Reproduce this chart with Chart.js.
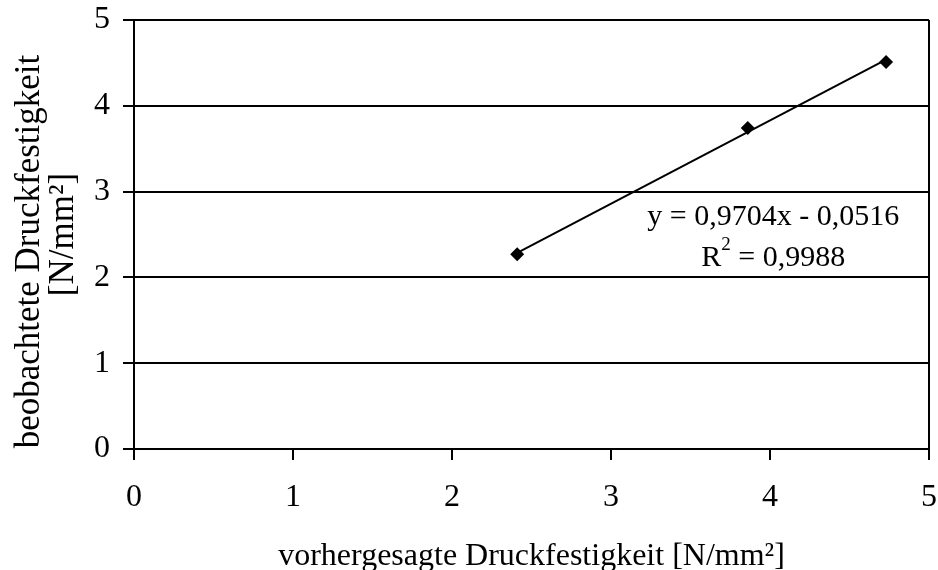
<!DOCTYPE html>
<html>
<head>
<meta charset="utf-8">
<script src="https://cdn.jsdelivr.net/npm/chart.js@4.4.1/dist/chart.umd.min.js"></script>
<style>
  html, body { margin: 0; padding: 0; background: #fff; }
  #wrap { width: 938px; height: 570px; }
</style>
</head>
<body>
<div id="wrap"><canvas id="grafico"></canvas></div>
<script>
// vorhergesagte vs. beobachtete Druckfestigkeit [N/mm²]
const vorhergesagt = [2.41, 3.86, 4.73];
const beobachtet = [2.27, 3.74, 4.51];
const achsenTicks = [0, 1, 2, 3, 4, 5];

// lineare Trendlinie
const steigung = 0.9704;
const achsenabschnitt = -0.0516;
const bestimmtheit = 0.9988;

const schrift = "'Liberation Serif', 'Times New Roman', serif";

const punkte = vorhergesagt.map((x, i) => ({ x: x, y: beobachtet[i] }));
const xMin = Math.min(...vorhergesagt);
const xMax = Math.max(...vorhergesagt);
const trend = [xMin, xMax].map((x) => ({ x: x, y: steigung * x + achsenabschnitt }));

function zahl(v, n) {
  return Math.abs(v).toFixed(n).replace('.', ',');
}

// Rahmen rechts, y-Titel (zweizeilig) und Gleichung
const extras = {
  id: 'extras',
  afterDraw(chart) {
    const ctx = chart.ctx;
    const a = chart.chartArea;
    const sx = chart.scales.x;
    const sy = chart.scales.y;
    ctx.save();
    ctx.strokeStyle = '#000';
    ctx.lineWidth = 2;
    ctx.beginPath();
    ctx.moveTo(a.right, a.top);
    ctx.lineTo(a.right, a.bottom);
    ctx.stroke();

    ctx.fillStyle = '#000';
    ctx.textAlign = 'center';
    ctx.textBaseline = 'middle';

    ctx.font = '35px ' + schrift;
    ctx.save();
    ctx.translate(a.left - 104, (a.top + a.bottom) / 2 + 17);
    ctx.rotate(-Math.PI / 2);
    ctx.fillText('beobachtete Druckfestigkeit', 0, 0);
    ctx.restore();
    ctx.save();
    ctx.translate(a.left - 70, (a.top + a.bottom) / 2);
    ctx.rotate(-Math.PI / 2);
    ctx.fillText('[N/mm²]', 0, 0);
    ctx.restore();

    // Gleichung der Trendlinie
    const gross = '30px ' + schrift;
    const klein = '19px ' + schrift;
    ctx.font = gross;
    const gx = sx.getPixelForValue(4.02);
    const gy1 = sy.getPixelForValue(2.70);
    const gy2 = sy.getPixelForValue(2.23);
    const zeichen = achsenabschnitt < 0 ? ' - ' : ' + ';
    ctx.fillText('y = ' + zahl(steigung, 4) + 'x' + zeichen + zahl(achsenabschnitt, 4), gx, gy1);

    const teil1 = 'R';
    const teil2 = ' = ' + zahl(bestimmtheit, 4);
    const w1 = ctx.measureText(teil1).width;
    const w2 = ctx.measureText(teil2).width;
    ctx.font = klein;
    const wh = ctx.measureText('2').width;
    const start = gx - (w1 + wh + w2) / 2;
    ctx.textAlign = 'left';
    ctx.fillText('2', start + w1, gy2 - 13);
    ctx.font = gross;
    ctx.fillText(teil1, start, gy2);
    ctx.fillText(teil2, start + w1 + wh, gy2);
    ctx.restore();
  }
};

const data = {
  datasets: [
    {
      label: 'Messwerte',
      data: punkte,
      showLine: false,
      pointStyle: 'rectRot',
      pointRadius: 7,
      backgroundColor: '#000',
      borderColor: '#000',
      borderWidth: 0,
      order: 0
    },
    {
      label: 'Trend',
      data: trend,
      showLine: true,
      pointRadius: 0,
      borderColor: '#000',
      borderWidth: 2,
      order: 1
    }
  ]
};

const config = {
  type: 'scatter',
  data: data,
  options: {
    responsive: true,
    maintainAspectRatio: false,
    animation: false,
    layout: { padding: { top: 20, right: 9, left: 0, bottom: 0 } },
    plugins: {
      legend: { display: false },
      tooltip: { enabled: false }
    },
    scales: {
      x: {
        type: 'linear',
        min: 0,
        max: 5,
        afterBuildTicks: (s) => { s.ticks = achsenTicks.map((v) => ({ value: v })); },
        afterFit: (s) => { s.height = 121; s.paddingLeft = 0; s.paddingRight = 0; },
        border: { color: '#000', width: 2 },
        grid: { drawOnChartArea: false, drawTicks: true, tickLength: 11, color: '#000', lineWidth: 2 },
        ticks: { color: '#000', font: { family: schrift, size: 32 }, padding: 18, maxRotation: 0 },
        title: {
          display: true,
          text: 'vorhergesagte Druckfestigkeit [N/mm²]',
          color: '#000',
          font: { family: schrift, size: 32 },
          padding: { top: 0, bottom: -6 }
        }
      },
      y: {
        type: 'linear',
        min: 0,
        max: 5,
        afterBuildTicks: (s) => { s.ticks = achsenTicks.map((v) => ({ value: v })); },
        afterFit: (s) => { s.width = 134; s.paddingTop = 0; s.paddingBottom = 0; },
        border: { color: '#000', width: 2 },
        grid: { color: '#000', lineWidth: 2, tickLength: 11 },
        ticks: { color: '#000', font: { family: schrift, size: 32 }, padding: 13 }
      }
    }
  },
  plugins: [extras]
};

const myChart = new Chart(document.querySelector('#grafico').getContext('2d'), config);
</script>
</body>
</html>
